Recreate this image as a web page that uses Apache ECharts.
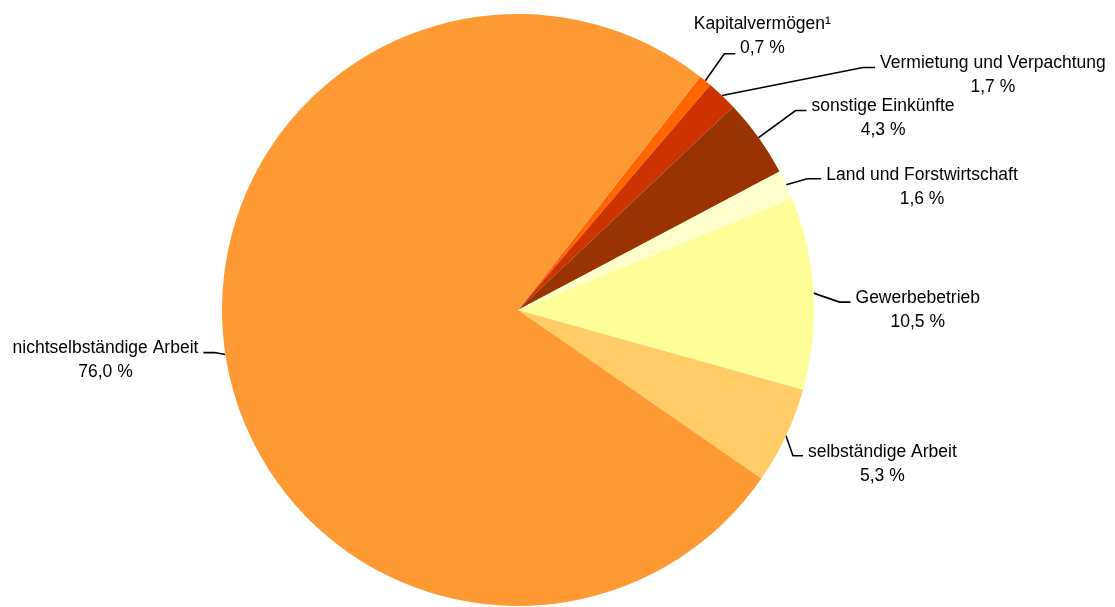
<!DOCTYPE html>
<html><head><meta charset="utf-8">
<script src="https://cdn.jsdelivr.net/npm/echarts@6/dist/echarts.min.js"></script>
<style>html,body{margin:0;padding:0;background:#fff}#c{width:1115px;height:607px}</style>
</head><body><div id="c"></div>
<script>
const categories = ['Kapitalvermögen¹','Vermietung und Verpachtung','sonstige Einkünfte','Land und Forstwirtschaft','Gewerbebetrieb','selbständige Arbeit','nichtselbständige Arbeit'];
const shares = [0.7, 1.7, 4.3, 1.6, 10.5, 5.3, 76.0];
const colors = ['#FF6600','#CC3300','#993300','#FFFFCC','#FFFF99','#FFCC66','#FF9933'];

// leader-line layout per label: [bend dx, bend dy, horizontal length]
const leader = [[19,-27,11],[141,-28,12],[37,-27,11],[21,-6,14],[26,9,11],[7,20,10],[-11,-2,-11]];

const chart = echarts.init(document.getElementById('c'), null, {renderer:'canvas'});
chart.setOption({
  animation: false,
  backgroundColor: '#ffffff',
  series: [{
    type: 'pie',
    center: [518, 310],
    radius: 296,
    startAngle: 52,
    clockwise: true,
    avoidLabelOverlap: false,
    data: categories.map((n, i) => ({name: n, value: shares[i], itemStyle: {color: colors[i]}})),
    itemStyle: {borderWidth: 0},
    label: {
      show: true,
      position: 'outside',
      color: '#000',
      fontFamily: 'Liberation Sans, Arial, sans-serif',
      fontSize: 17.5,
      lineHeight: 24,
      overflow: 'none',
      formatter: p => p.name + '\n' + p.value.toFixed(1).replace('.', ',') + ' %'
    },
    labelLine: {show: true, length: 5, length2: 5, lineStyle: {color: '#000', width: 1.6}},
    emphasis: {disabled: true},
    labelLayout: function (p) {
      const L = leader[p.dataIndex];
      const a = p.labelLinePoints[0];
      const b = [a[0] + L[0], a[1] + L[1]];
      const e = [b[0] + L[2], b[1]];
      const w = p.labelRect.width;
      let x, y;
      if (p.dataIndex === 0) { x = e[0] + 27; y = e[1] - 42; }
      else if (L[2] < 0) { x = e[0] - 5 - w / 2; y = e[1] - 16; }
      else { x = e[0] + 5 + w / 2; y = e[1] - 16; }
      return {x: x, y: y, align: 'center', verticalAlign: 'top', hideOverlap: false, labelLinePoints: [a, b, e]};
    }
  }]
});
</script></body></html>
